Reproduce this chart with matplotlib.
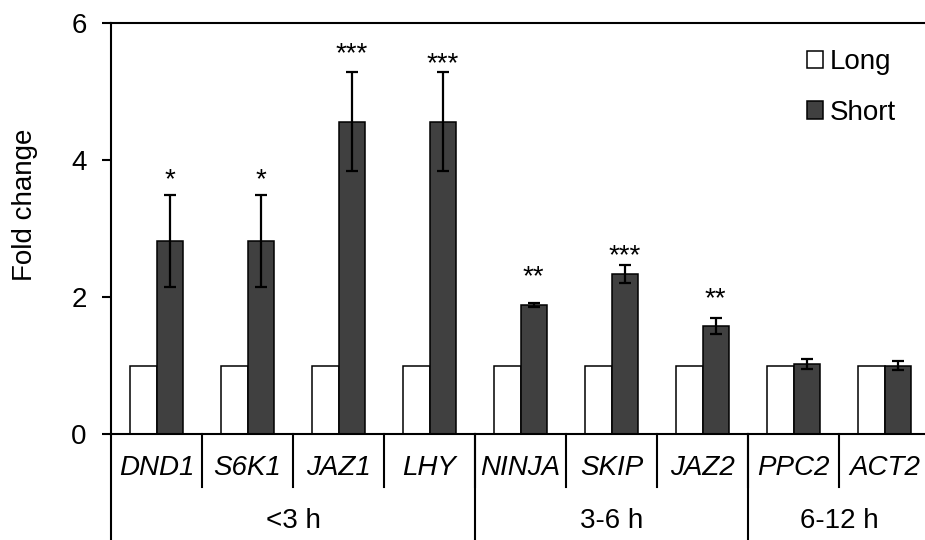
import matplotlib as mpl
import matplotlib.pyplot as plt
import matplotlib.transforms as mtransforms
import numpy as np

plt.rcParams['font.family'] = ['Liberation Sans', 'DejaVu Sans']

genes = ['DND1', 'S6K1', 'JAZ1', 'LHY', 'NINJA', 'SKIP', 'JAZ2', 'PPC2', 'ACT2']
long_vals = [1, 1, 1, 1, 1, 1, 1, 1, 1]
short_vals = [2.82, 2.82, 4.56, 4.56, 1.88, 2.33, 1.58, 1.02, 1.0]
short_err = [0.67, 0.67, 0.72, 0.72, 0.03, 0.13, 0.12, 0.07, 0.06]
stars = ['*', '*', '***', '***', '**', '***', '**', '', '']
star_y = [3.83, 3.83, 5.67, 5.53, 2.42, 2.72, 2.10, 0, 0]
groups = ['<3 h', '3-6 h', '6-12 h']
group_size = [4, 3, 2]

fig = plt.figure(figsize=(9.25, 5.4), dpi=100)
ax = fig.add_axes([111/925, 106/540, 819/925, 411/540])

x = np.arange(len(genes))
w = 0.286
ax.bar(x - w/2, long_vals, w, color='white', edgecolor='black', linewidth=1.1, label='Long')
ax.bar(x + w/2, short_vals, w, color='#404040', edgecolor='black', linewidth=1.1,
       yerr=short_err, error_kw=dict(ecolor='black', elinewidth=1.6, capsize=4.6, capthick=1.6),
       label='Short')

# significance stars (centred on star_y)
for i in range(len(genes)):
    if stars[i]:
        ax.annotate(stars[i], xy=(x[i] + w/2, star_y[i]), xytext=(0, -11.4),
                    textcoords='offset points', ha='center', va='baseline', fontsize=20)

ax.set_xlim(-0.5, len(genes) - 0.5)
ax.set_ylim(0, 6)
ax.set_yticks([0, 2, 4, 6])
ax.tick_params(axis='y', labelsize=20, length=6.5, width=1.5, direction='out', pad=11)
ax.set_xticks([])
ax.set_ylabel('Fold change', fontsize=20)
ax.yaxis.set_label_coords(-0.089, 0.557)
for s in ['left', 'bottom', 'top']:
    ax.spines[s].set_linewidth(1.5)
ax.spines['right'].set_visible(False)

# gene names and group labels under the axis
trans = mtransforms.blended_transform_factory(ax.transData, ax.transAxes)
for i, g in enumerate(genes):
    ax.text(x[i], -0.083, g, transform=trans, ha='center', va='center',
            fontsize=20, style='italic')
for i in range(len(genes) - 1):
    ax.plot([i + 0.5, i + 0.5], [0, -0.129], transform=trans, color='black',
            linewidth=1.5, clip_on=False)
start = 0
edges = [-0.5]
for gname, n in zip(groups, group_size):
    ax.text(start + (n - 1) / 2, -0.212, gname, transform=trans, ha='center',
            va='center', fontsize=20)
    start += n
    edges.append(start - 0.5)
for e in edges[:-1]:
    ax.plot([e, e], [0, -0.27], transform=trans, color='black', linewidth=1.5, clip_on=False)

leg = ax.legend(loc='upper left', bbox_to_anchor=(807/925, 1 - 49/540), bbox_transform=fig.transFigure,
                frameon=False, fontsize=20, borderpad=0, borderaxespad=0,
                handlelength=0.58, handleheight=0.58, handletextpad=0.25, labelspacing=0.89)

plt.savefig('out.png', dpi=100)
